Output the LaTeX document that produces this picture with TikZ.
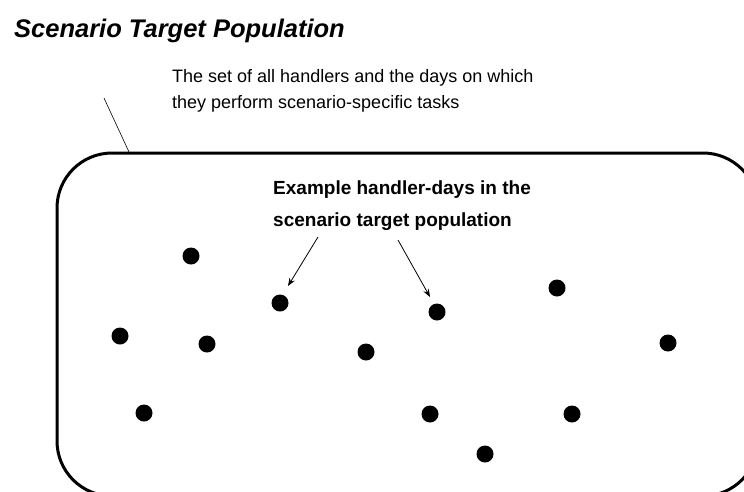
\documentclass[tikz,border=0pt]{standalone}
\usepackage{fontspec}
\setmainfont{Liberation Sans}
\usetikzlibrary{arrows.meta}
\begin{document}
\begin{tikzpicture}[x=1pt,y=-1pt,
  dot/.style={circle,fill=black,inner sep=0pt,minimum size=17pt},
  lbl/.style={anchor=west,inner sep=0pt,font=\fontsize{18}{26}\selectfont,align=left},
  arr/.style={-{Stealth[length=8pt,width=6pt]},line width=0.8pt}]
\useasboundingbox (0,0) rectangle (744,491);
\begin{scope}
\clip (0,0) rectangle (744,491);
\draw[line width=3pt,rounded corners=55pt] (57,153) rectangle (758,496);
\end{scope}
\node[anchor=base west,inner sep=0pt,font=\fontsize{25.5}{30}\selectfont\bfseries\itshape] (title) at (14,37) {Scenario Target Population};
\node[lbl] (desc) at (172,91) {The set of all handlers and the days on which\\they perform scenario-specific tasks};
\node[lbl,font=\fontsize{19}{32}\selectfont\bfseries] (ex) at (273,206) {Example handler-days in the\\scenario target population};
\coordinate (lt) at (104,98);
\coordinate (lb) at (129,152);
\draw[line width=0.6pt] (lt) -- (lb);
\node[dot] (d1) at (191,256) {};
\node[dot] (d2) at (280,303) {};
\node[dot] (d3) at (437,312) {};
\node[dot] (d4) at (557,288) {};
\node[dot] (d5) at (120,336) {};
\node[dot] (d6) at (207,344) {};
\node[dot] (d7) at (366,352) {};
\node[dot] (d8) at (668,343) {};
\node[dot] (d9) at (144,413) {};
\node[dot] (d10) at (430,414) {};
\node[dot] (d11) at (572,414) {};
\node[dot] (d12) at (485,454) {};
\coordinate (a1) at (318,237);
\coordinate (a2) at (398,240);
\draw[arr] (a1) -- (288,286);
\draw[arr] (a2) -- (430,297);
\end{tikzpicture}
\end{document}
